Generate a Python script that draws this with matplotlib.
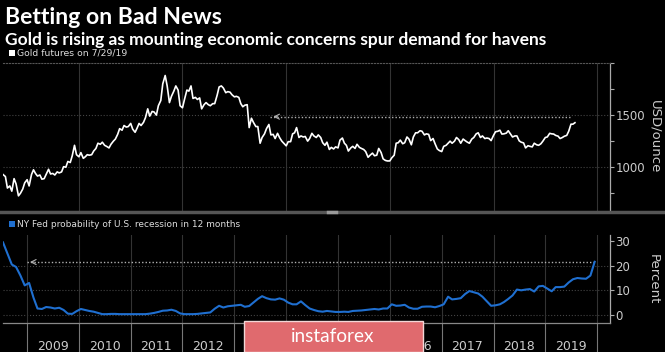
import numpy as np
import pandas as pd
import matplotlib
matplotlib.use("Agg")
import matplotlib.pyplot as plt
from matplotlib.lines import Line2D
from matplotlib.patches import Rectangle

# gold futures, USD/ounce, twice a month (1st and 15th), last point 7/29/19
gold_2008 = [930, 910, 800, 820, 770, 890, 840, 725, 750, 790, 850]
gold_2009 = [880, 820, 930, 975, 940, 915, 925, 885, 890, 930, 980, 935,
             940, 925, 955, 945, 955, 1005, 1000, 1055, 1045, 1110, 1210, 1120]
gold_2010 = [1100, 1140, 1085, 1100, 1120, 1115, 1120, 1155, 1180, 1230, 1220, 1240,
             1210, 1200, 1185, 1220, 1250, 1270, 1315, 1370, 1355, 1400, 1385, 1390]
gold_2011 = [1420, 1365, 1335, 1375, 1420, 1400, 1430, 1475, 1560, 1490, 1535, 1530,
             1500, 1590, 1640, 1800, 1880, 1780, 1620, 1680, 1730, 1780, 1740, 1590]
gold_2012 = [1570, 1650, 1740, 1730, 1780, 1660, 1670, 1650, 1665, 1560, 1600, 1620,
             1600, 1590, 1610, 1610, 1690, 1770, 1780, 1760, 1715, 1725, 1720, 1695]
gold_2013 = [1675, 1680, 1670, 1610, 1580, 1595, 1600, 1380, 1470, 1430, 1390, 1390,
             1230, 1285, 1320, 1370, 1410, 1310, 1315, 1275, 1325, 1285, 1250, 1230]
gold_2014 = [1205, 1245, 1245, 1320, 1330, 1380, 1285, 1300, 1290, 1295, 1250, 1275,
             1325, 1300, 1285, 1310, 1285, 1235, 1210, 1240, 1170, 1190, 1175, 1195]
gold_2015 = [1185, 1260, 1280, 1230, 1210, 1155, 1185, 1200, 1180, 1220, 1190, 1180,
             1170, 1150, 1095, 1115, 1135, 1110, 1115, 1180, 1140, 1080, 1065, 1060]
gold_2016 = [1060, 1090, 1115, 1230, 1235, 1260, 1225, 1235, 1290, 1270, 1215, 1290,
             1330, 1330, 1350, 1345, 1310, 1320, 1315, 1255, 1275, 1225, 1175, 1160]
gold_2017 = [1150, 1200, 1210, 1230, 1250, 1230, 1250, 1285, 1265, 1230, 1270, 1255,
             1240, 1230, 1270, 1285, 1320, 1330, 1285, 1300, 1275, 1280, 1275, 1255]
gold_2018 = [1305, 1340, 1345, 1355, 1318, 1320, 1327, 1350, 1318, 1290, 1300, 1300,
             1253, 1240, 1233, 1185, 1206, 1200, 1195, 1230, 1215, 1210, 1225, 1250]
gold_2019 = [1285, 1290, 1325, 1320, 1318, 1305, 1298, 1275, 1285, 1297, 1305, 1345,
             1413, 1413, 1427]

# NY Fed probability of U.S. recession in 12 months, percent, monthly Jul 2008 - Dec 2019
rec_2008 = [29.5, 25, 20.5, 19.5, 16, 12]
rec_2009 = [13, 7, 2.6, 2.4, 3.2, 3.0, 2.6, 2.9, 2.0, 0.5, 0.4, 1.5]
rec_2010 = [2.4, 2.0, 1.6, 1.3, 0.8, 0.3, 0.3, 0.4, 0.4, 0.3, 0.3, 0.3]
rec_2011 = [0.3, 0.3, 0.3, 0.3, 0.5, 0.8, 1.2, 1.7, 1.8, 2.1, 1.6, 0.6]
rec_2012 = [0.3, 0.3, 0.3, 0.4, 0.6, 0.8, 1.0, 2.5, 3.7, 3.0, 3.5, 3.7]
rec_2013 = [3.9, 4.1, 3.3, 3.6, 5.0, 6.5, 7.6, 6.8, 6.3, 6.2, 6.7, 6.2]
rec_2014 = [5.0, 4.3, 4.3, 5.5, 4.0, 2.6, 2.0, 1.5, 1.3, 1.6, 1.4, 1.2]
rec_2015 = [1.2, 1.3, 1.2, 1.6, 1.7, 1.8, 2.0, 2.2, 2.4, 2.2, 2.6, 2.6]
rec_2016 = [4.3, 3.7, 3.8, 4.1, 3.0, 2.5, 2.5, 3.3, 3.4, 3.4, 3.1, 3.6]
rec_2017 = [4.3, 7.4, 6.3, 6.5, 6.8, 8.5, 9.7, 9.2, 8.7, 7.4, 5.5, 3.7]
rec_2018 = [3.9, 4.3, 5.2, 6.5, 7.9, 10.3, 10.0, 10.3, 10.5, 9.5, 11.6, 11.8]
rec_2019 = [10.7, 9.6, 11.3, 11.3, 11.5, 13.2, 14.5, 15.0, 14.8, 14.7, 16.0, 21.6]

gold = (gold_2008 + gold_2009 + gold_2010 + gold_2011 + gold_2012 + gold_2013
        + gold_2014 + gold_2015 + gold_2016 + gold_2017 + gold_2018 + gold_2019)
gold_dates = list(pd.date_range("2008-07-15", "2019-07-15", freq="SMS")) + [pd.Timestamp("2019-07-29")]

rec = (rec_2008 + rec_2009 + rec_2010 + rec_2011 + rec_2012 + rec_2013
       + rec_2014 + rec_2015 + rec_2016 + rec_2017 + rec_2018 + rec_2019)
rec_dates = pd.date_range("2008-07-01", "2019-12-01", freq="MS") + pd.Timedelta(days=14)

years = list(range(2009, 2020))

narrow = ["Liberation Sans Narrow", "DejaVu Sans"]
bold = ["Lato", "DejaVu Sans"]
bg = "black"
grey_txt = "#cccccc"
arrow_c = "#b0b0b0"
grid_c = "#444444"

fig = plt.figure(figsize=(6.65, 3.52), dpi=100, facecolor=bg)
W, H = 665.0, 352.0
renderer = fig.canvas.get_renderer()

def box(x0, y0, x1, y1):
    return [x0 / W, 1 - y1 / H, (x1 - x0) / W, (y1 - y0) / H]

def fit(t, width_px):
    # scale a text so that it spans the width seen in the reference
    w = t.get_window_extent(renderer).width
    t.set_fontsize(t.get_fontsize() * width_px / w)

xmin = pd.Timestamp("2008-07-15")
xmax = pd.Timestamp("2020-04-01")

# ---------- top panel: gold ----------
ax1 = fig.add_axes(box(3, 63, 610, 212), facecolor=bg)
ax1.plot(gold_dates, gold, color="white", lw=1.2)
ax1.set_xlim(xmin, xmax)
ax1.set_ylim(570, 2000)
for s in ["left", "bottom"]:
    ax1.spines[s].set_visible(False)
ax1.spines["top"].set_color("#555555")
ax1.spines["top"].set_linestyle(":")
ax1.spines["top"].set_linewidth(0.8)
ax1.spines["right"].set_color("#aaaaaa")
ax1.spines["right"].set_linewidth(0.9)
ax1.yaxis.tick_right()
ax1.set_yticks([1000, 1500])
ax1.set_yticks([750, 1250, 1750, 2000], minor=True)
ax1.tick_params(axis="y", which="both", colors="#aaaaaa", length=3, width=0.8, pad=1)
for lab in ax1.get_yticklabels():
    lab.set_color(grey_txt)
    lab.set_fontsize(8.5)
    lab.set_family(narrow)
ax1.set_xticks([pd.Timestamp(f"{y}-01-01") for y in range(2010, 2021, 2)])
ax1.tick_params(axis="x", length=0, labelbottom=False)
ax1.grid(axis="x", color="#333333", lw=0.8, ls="-")
for v in [1000, 1500]:
    ax1.axhline(v, color=grid_c, lw=0.8, ls=":", zorder=0)

# dotted arrow at the current gold level
ax1.plot([pd.Timestamp("2013-09-12"), pd.Timestamp("2019-07-01")], [1485, 1485],
         color=arrow_c, lw=1.0, ls=(0, (1, 1.5)))
ax1.annotate("", xy=(pd.Timestamp("2013-09-12"), 1485), xytext=(pd.Timestamp("2013-11-20"), 1485),
             arrowprops=dict(arrowstyle="->", color=arrow_c, lw=0.8, mutation_scale=9))

fig.text(655 / W, 1 - 137 / H, "USD/ounce", rotation=270, color=grey_txt, fontsize=9.5,
         ha="center", va="center")

# ---------- bottom panel: recession probability ----------
ax2 = fig.add_axes(box(3, 235, 610, 323), facecolor=bg)
ax2.plot(rec_dates, rec, color="#1f6fd0", lw=1.5, zorder=3)
ax2.set_xlim(xmin, xmax)
ax2.set_ylim(-3.3, 32.5)
for s in ["left", "top"]:
    ax2.spines[s].set_visible(False)
ax2.spines["right"].set_color("#aaaaaa")
ax2.spines["right"].set_linewidth(0.9)
ax2.spines["bottom"].set_color("#888888")
ax2.spines["bottom"].set_linewidth(0.9)
ax2.yaxis.tick_right()
ax2.set_yticks([0, 10, 20, 30])
ax2.tick_params(axis="y", colors="#aaaaaa", length=3, width=0.8, pad=1)
for lab in ax2.get_yticklabels():
    lab.set_color(grey_txt)
    lab.set_fontsize(8.5)
    lab.set_family(narrow)
for v in [0, 10, 20]:
    ax2.axhline(v, color=grid_c, lw=0.8, ls=":", zorder=0)

ax2.set_xticks([pd.Timestamp(f"{y}-01-01") for y in years + [2020]])
ax2.set_xticks([pd.Timestamp(f"{y}-07-01") for y in years], minor=True)
ax2.set_xticklabels([str(y) for y in years], minor=True)
ax2.tick_params(axis="x", which="major", length=21, width=0.8, color="#777777", labelbottom=False)
ax2.tick_params(axis="x", which="minor", length=0, pad=12, labelcolor=grey_txt, labelsize=9)
for lab in ax2.get_xticklabels(minor=True):
    lab.set_family(narrow)
ax2.grid(axis="x", which="major", color="#333333", lw=0.8, ls="-")

ax2.plot([pd.Timestamp("2009-01-01"), pd.Timestamp("2019-12-10")], [21.5, 21.5],
         color=arrow_c, lw=1.0, ls=(0, (1, 1.5)), zorder=2)
ax2.annotate("", xy=(pd.Timestamp("2009-01-01"), 21.5), xytext=(pd.Timestamp("2009-03-10"), 21.5),
             arrowprops=dict(arrowstyle="->", color=arrow_c, lw=0.8, mutation_scale=9))

fig.text(653 / W, 1 - 279 / H, "Percent", rotation=270, color=grey_txt, fontsize=9.5,
         ha="center", va="center")

# ---------- titles and legends ----------
t1 = fig.text(5 / W, 1 - 23.5 / H, "Betting on Bad News", color="white", fontsize=16,
              fontweight="bold", family=bold, va="baseline")
fit(t1, 217)
t2 = fig.text(5 / W, 1 - 44.5 / H, "Gold is rising as mounting economic concerns spur demand for havens",
              color="white", fontsize=12, fontweight="bold", family=bold, va="baseline")
fit(t2, 538)

fig.patches.append(Rectangle((9 / W, 1 - 56 / H), 6 / W, 6 / H, transform=fig.transFigure,
                             facecolor="white", edgecolor="none"))
t3 = fig.text(17 / W, 1 - 53 / H, "Gold futures on 7/29/19", color="#dddddd", fontsize=8,
              family=narrow, va="center")
fit(t3, 110)
fig.patches.append(Rectangle((9 / W, 1 - 227 / H), 6 / W, 6 / H, transform=fig.transFigure,
                             facecolor="#1f6fd0", edgecolor="none"))
t4 = fig.text(17 / W, 1 - 224.5 / H, "NY Fed probability of U.S. recession in 12 months", color="#dddddd",
              fontsize=8, family=narrow, va="center")
fit(t4, 223)

# thick separator between panels
fig.add_artist(Line2D([0, 1], [1 - 212.5 / H, 1 - 212.5 / H], transform=fig.transFigure,
                      color="#555555", lw=2.5))
fig.add_artist(Line2D([328 / W, 336 / W], [1 - 212.5 / H, 1 - 212.5 / H], transform=fig.transFigure,
                      color="#999999", lw=2.5))

# watermark
fig.patches.append(Rectangle((244 / W, 0), 179 / W, 31.5 / H, transform=fig.transFigure,
                             facecolor="#e06a6e", edgecolor="#f2d6d6", lw=1, zorder=10))
t5 = fig.text(333 / W, 1 - 336 / H, "instaforex", color="white", fontsize=14,
              family=["Lato", "DejaVu Sans"], ha="center", va="center", zorder=11)
fit(t5, 84)

fig.savefig("out.png", dpi=100, facecolor=bg)
